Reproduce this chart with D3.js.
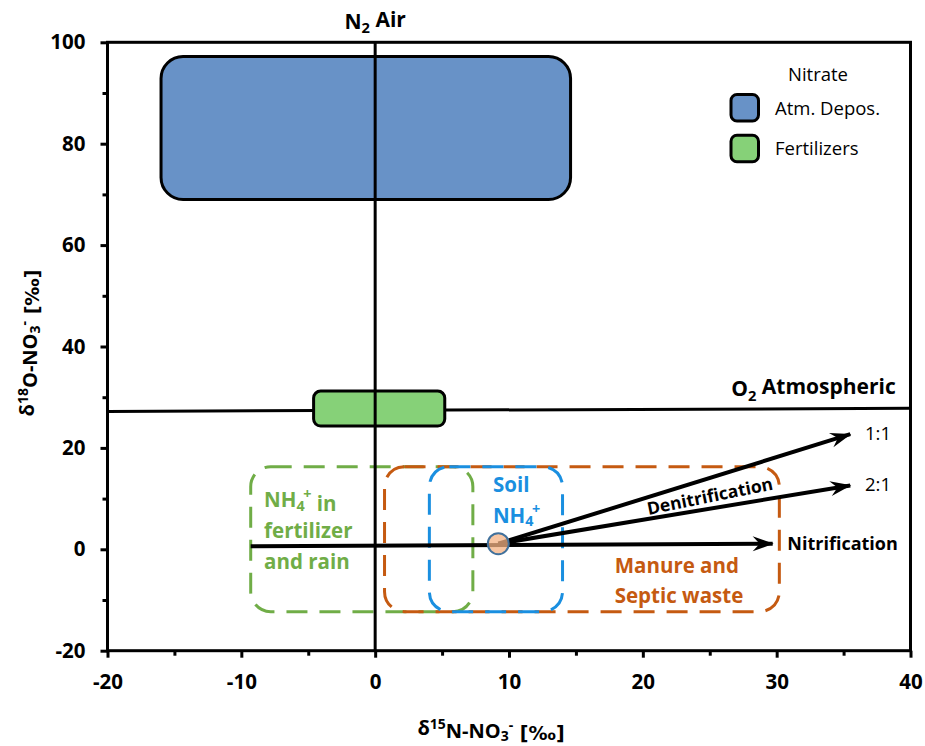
<!DOCTYPE html>
<html>
<head>
<meta charset="utf-8">
<script src="https://cdn.jsdelivr.net/npm/d3@7"></script>
<style>
  body { margin: 0; background: #fff; }
  #chart { width: 925px; height: 746px; }
  text { font-family: "Open Sans", sans-serif; }
</style>
</head>
<body>
<div id="chart"></div>
<script>
// axis ticks
var xTicks = [-20, -10, 0, 10, 20, 30, 40];
var xMinor = [-15, -5, 5, 15, 25, 35];
var yTicks = [-20, 0, 20, 40, 60, 80, 100];
var yMinor = [-10, 10, 30, 50, 70, 90];

// nitrate source boxes (solid, in legend)
var sources = [
    { name: "Atm. Depos.", x0: -16.0, x1: 14.6, y0: 69.0, y1: 97.2, color: "#6892c7" },
    { name: "Fertilizers", x0: -4.6, x1: 5.2, y0: 24.3, y1: 31.2, color: "#86d178" }
];

// ammonium / waste regions (dashed)
var regions = [
    { name: "fertRain", x0: -9.3, x1: 7.3, y0: -12.3, y1: 16.3, color: "#70ad47",
      lines: ["NH4+ in", "fertilizer", "and rain"], lx: -8.3, ly: 8.3 },
    { name: "manure", x0: 0.7, x1: 30.2, y0: -12.3, y1: 16.3, color: "#c55a11",
      lines: ["Manure and", "Septic waste"], lx: 17.9, ly: -4.6 },
    { name: "soil", x0: 4.05, x1: 14.0, y0: -12.3, y1: 16.3, color: "#1a8fe0",
      lines: ["Soil", "NH4+"], lx: 8.8, ly: 11.3 }
];

// reference lines
var n2Air = [{ x: 0, y: -20 }, { x: 0, y: 100 }];
var o2Atm = [{ x: -20, y: 27.2 }, { x: 40, y: 27.8 }];

// process arrows
var origin = { x: 9.2, y: 1.1 };
var arrows = [
    { name: "1:1", from: origin, to: { x: 35.8, y: 22.7 } },
    { name: "2:1", from: origin, to: { x: 35.8, y: 12.6 } },
    { name: "Nitrification", from: { x: -9.3, y: 0.6 }, to: { x: 30.0, y: 1.1 } }
];

var width = document.querySelector("#chart").clientWidth,
    height = document.querySelector("#chart").clientHeight;

var margin = { left: 107.5, right: 925 - 910.5, top: 42.3, bottom: 746 - 650.7 };

var svg = d3.select("#chart")
    .append("svg")
    .attr("width", width)
    .attr("height", height);

var x = d3.scaleLinear().domain([-20, 40]).range([margin.left, width - margin.right]);
var y = d3.scaleLinear().domain([-20, 100]).range([height - margin.bottom, margin.top]);

var defs = svg.append("defs");
defs.append("marker")
    .attr("id", "head")
    .attr("viewBox", "-22 -9 24 18")
    .attr("refX", 0).attr("refY", 0)
    .attr("markerWidth", 24).attr("markerHeight", 18)
    .attr("markerUnits", "userSpaceOnUse")
    .attr("orient", "auto")
    .append("path")
    .attr("d", "M1,0 L-20,-7.5 L-13,0 L-20,7.5 Z")
    .attr("fill", "#000");

/* DASHED REGIONS */
svg.append("g")
    .selectAll("rect")
    .data(regions)
    .enter()
    .append("rect")
        .attr("x", d => x(d.x0))
        .attr("y", d => y(d.y1))
        .attr("width", d => x(d.x1) - x(d.x0))
        .attr("height", d => y(d.y0) - y(d.y1))
        .attr("rx", 20).attr("ry", 20)
        .attr("fill", "none")
        .attr("stroke", d => d.color)
        .attr("stroke-width", 3)
        .attr("stroke-dasharray", "21,12");

/* REFERENCE LINES */
var line = d3.line().x(d => x(d.x)).y(d => y(d.y));
svg.append("path").datum(o2Atm).attr("d", line)
    .attr("stroke", "#000").attr("stroke-width", 3).attr("fill", "none");

/* SOURCE BOXES */
svg.append("g")
    .selectAll("rect")
    .data(sources)
    .enter()
    .append("rect")
        .attr("x", d => x(d.x0))
        .attr("y", d => y(d.y1))
        .attr("width", d => x(d.x1) - x(d.x0))
        .attr("height", d => y(d.y0) - y(d.y1))
        .attr("rx", (d, i) => i == 0 ? 22 : 7)
        .attr("fill", d => d.color)
        .attr("stroke", "#000")
        .attr("stroke-width", 3);

// vertical line over boxes
svg.append("path").datum(n2Air).attr("d", line)
    .attr("stroke", "#000").attr("stroke-width", 3).attr("fill", "none");

/* ARROWS */
svg.append("g")
    .selectAll("line")
    .data(arrows)
    .enter()
    .append("line")
        .attr("x1", d => x(d.from.x))
        .attr("y1", d => y(d.from.y))
        .attr("x2", d => x(d.to.x) - 4)
        .attr("y2", d => y(d.to.y))
        .attr("stroke", "#000")
        .attr("stroke-width", 4)
        .attr("marker-end", "url(#head)");

svg.append("circle")
    .attr("cx", x(origin.x))
    .attr("cy", y(origin.y))
    .attr("r", 10.5)
    .attr("fill", "#f4b183")
    .attr("fill-opacity", 0.75)
    .attr("stroke", "#41719c")
    .attr("stroke-width", 2);

/* REGION LABELS */
function chem(sel, s) {
    // write "NH4+" style text with sub/superscripts
    var m = s.match(/^(.*?)NH4\+(.*)$/);
    if (!m) { sel.text(s); return; }
    sel.append("tspan").text(m[1] + "NH");
    sel.append("tspan").text("4").attr("font-size", "0.7em").attr("dy", "0.25em");
    sel.append("tspan").text("+").attr("font-size", "0.7em").attr("dy", "-0.85em").attr("dx", "-0.1em");
    sel.append("tspan").text(m[2]).attr("dy", "0.6em");
}

regions.forEach(function(r) {
    var t = svg.append("g");
    r.lines.forEach(function(s, i) {
        var tx = t.append("text")
            .attr("x", x(r.lx))
            .attr("y", y(r.ly) + i * 30.8)
            .attr("fill", r.color)
            .attr("font-size", 20.5)
            .attr("font-weight", "bold");
        chem(tx, s);
    });
});

/* ARROW LABELS */
svg.append("text").attr("x", x(36.6)).attr("y", y(22.7) + 6)
    .attr("font-size", 18.5).text("1:1");
svg.append("text").attr("x", x(36.6)).attr("y", y(12.6) + 6)
    .attr("font-size", 18.5).text("2:1");
svg.append("text").attr("x", x(30.8)).attr("y", y(1.1) + 6)
    .attr("font-size", 18).attr("font-weight", "bold").text("Nitrification");
svg.append("text")
    .attr("transform", "translate(" + x(25.1) + "," + y(9.3) + ") rotate(-11.5)")
    .attr("text-anchor", "middle")
    .attr("font-size", 17.5).attr("font-weight", "bold")
    .text("Denitrification");

var o2 = svg.append("text").attr("x", x(38.9)).attr("y", y(30.2))
    .attr("text-anchor", "end").attr("font-size", 21).attr("font-weight", "bold");
o2.append("tspan").text("O");
o2.append("tspan").text("2").attr("font-size", "0.7em").attr("dy", "0.3em");
o2.append("tspan").text(" Atmospheric").attr("dy", "-0.3em");

var n2 = svg.append("text").attr("x", x(0)).attr("y", 29)
    .attr("text-anchor", "middle").attr("font-size", 21).attr("font-weight", "bold");
n2.append("tspan").text("N");
n2.append("tspan").text("2").attr("font-size", "0.7em").attr("dy", "0.3em");
n2.append("tspan").text(" Air").attr("dy", "-0.3em");

/* AXES */
var fmt = d => String(d);
var xAxis = svg.append("g")
    .attr("transform", "translate(0," + y(-20) + ")")
    .call(d3.axisBottom(x).tickValues(xTicks).tickSize(7).tickPadding(17).tickFormat(fmt));
svg.append("g")
    .attr("transform", "translate(0," + y(-20) + ")")
    .call(d3.axisBottom(x).tickValues(xMinor).tickSize(5).tickFormat(""));
var yAxis = svg.append("g")
    .attr("transform", "translate(" + x(-20) + ",0)")
    .call(d3.axisLeft(y).tickValues(yTicks).tickSize(7).tickPadding(15).tickFormat(fmt));
svg.append("g")
    .attr("transform", "translate(" + x(-20) + ",0)")
    .call(d3.axisLeft(y).tickValues(yMinor).tickSize(5).tickFormat(""));

svg.selectAll(".domain").remove();
svg.selectAll(".tick line").attr("stroke", "#000").attr("stroke-width", 3);
svg.selectAll(".tick text")
    .attr("font-family", "'Open Sans', sans-serif")
    .attr("font-size", 20.5)
    .attr("font-weight", "bold")
    .attr("fill", "#000");

// plot frame
svg.append("rect")
    .attr("x", x(-20)).attr("y", y(100))
    .attr("width", x(40) - x(-20))
    .attr("height", y(-20) - y(100))
    .attr("fill", "none")
    .attr("stroke", "#000")
    .attr("stroke-width", 3);

/* AXIS TITLES */
function isoTitle(sel, mass, el) {
    sel.append("tspan").text("δ");
    sel.append("tspan").text(mass).attr("font-size", "0.7em").attr("dy", "-0.45em");
    sel.append("tspan").text(el + "-NO").attr("dy", "0.45em");
    sel.append("tspan").text("3").attr("font-size", "0.7em").attr("dy", "0.25em");
    sel.append("tspan").text("-").attr("font-size", "0.7em").attr("dy", "-0.8em");
    sel.append("tspan").text(" [‰]")
        .attr("font-family", "'DejaVu Sans', sans-serif")
        .attr("font-size", "19px").attr("dy", "0.55em");
}
var xt = svg.append("text").attr("x", 491).attr("y", 735)
    .attr("text-anchor", "middle").attr("font-size", 20).attr("font-weight", "bold");
isoTitle(xt, "15", "N");

var yt = svg.append("text")
    .attr("transform", "translate(34,343) rotate(-90)")
    .attr("text-anchor", "middle").attr("font-size", 20).attr("font-weight", "bold");
isoTitle(yt, "18", "O");

/* LEGEND */
var legend = svg.append("g");
legend.append("text").attr("x", 818).attr("y", 81)
    .attr("text-anchor", "middle").attr("font-size", 18.5).text("Nitrate");
var item = legend.selectAll("g.item")
    .data(sources)
    .enter()
    .append("g")
    .attr("class", "item")
    .attr("transform", (d, i) => "translate(731," + (94.5 + i * 40.8) + ")");
item.append("rect")
    .attr("width", 27.5).attr("height", 26.5)
    .attr("rx", 6)
    .attr("fill", d => d.color)
    .attr("stroke", "#000")
    .attr("stroke-width", 3);
item.append("text")
    .attr("x", 44).attr("y", 20)
    .attr("font-size", 18.5)
    .text(d => d.name);
</script>
</body>
</html>
